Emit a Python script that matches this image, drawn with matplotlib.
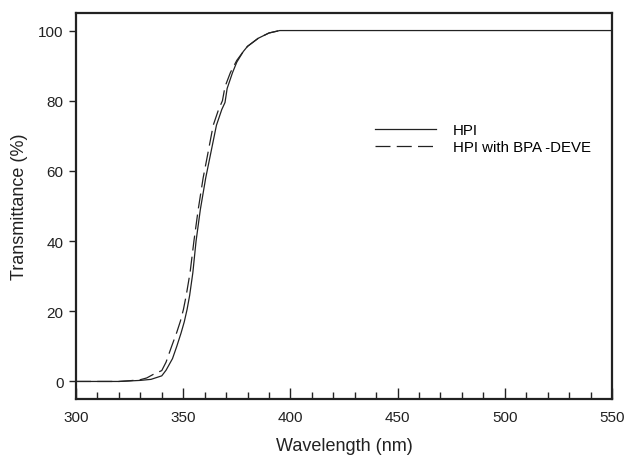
import matplotlib
matplotlib.use("Agg")
import matplotlib.pyplot as plt
from matplotlib.ticker import MultipleLocator

plt.rcParams['font.family'] = ['Liberation Sans', 'DejaVu Sans']

# HPI (solid)
wl_hpi = [300, 310, 320, 330, 335, 340, 342, 345, 347, 349, 350.5, 351.8, 353, 354.5, 356, 358,
          360.5, 362.5, 365.5, 368, 369.5, 370.5, 373, 375, 378, 380, 385, 390, 395, 550]
t_hpi = [0, 0, 0, 0.3, 0.6, 1.6, 3.2, 6.5, 10, 13.8, 17, 20.5, 24.5, 31, 40, 49,
         58, 64, 73, 77.5, 79.5, 83.5, 88, 91, 94, 95.5, 97.8, 99.3, 100, 100]

# HPI with BPA-DEVE (dashed)
wl_bpa = [300, 310, 320, 325, 330, 333, 336, 340, 342, 344.6, 347, 348.7, 350.1, 351.4,
          353.2, 355, 357, 359.3, 361.2, 364, 366.5, 368.3, 369.5, 372, 375, 378, 380,
          385, 390, 395]
t_bpa = [0, 0, 0, 0.2, 0.5, 1, 2, 3.1, 5.5, 10, 14, 17.2, 20.5, 24.5,
         31, 40, 49, 58, 64, 73, 77.5, 80, 84, 88, 91.5, 94, 95.5,
         97.8, 99.3, 100]

labels = ["HPI", "HPI with BPA -DEVE"]

fig = plt.figure(figsize=(6.25, 4.56), dpi=100)
ax = fig.add_axes([76/625, 56/456, (612-76)/625, (400-14)/456])

ax.plot(wl_hpi, t_hpi, color='#222222', lw=0.9, ls='-', label=labels[0])
ax.plot(wl_bpa, t_bpa, color='#222222', lw=0.9, ls=(0, (12, 5)), label=labels[1])

ax.set_xlim(300, 550)
ax.set_ylim(-5, 105)
ax.xaxis.set_major_locator(MultipleLocator(50))
ax.xaxis.set_minor_locator(MultipleLocator(10))
ax.yaxis.set_major_locator(MultipleLocator(20))
ax.yaxis.set_minor_locator(plt.NullLocator())

for s in ax.spines.values():
    s.set_linewidth(1.6)
    s.set_color('#222222')

ax.tick_params(axis='x', which='major', direction='in', length=8, width=1, labelsize=11, pad=8, colors='#222222')
ax.tick_params(axis='x', which='minor', direction='in', length=5, width=1, colors='#222222')
ax.tick_params(axis='y', which='major', direction='out', length=5, width=1, labelsize=11, pad=4, colors='#222222')

ax.set_xlabel("Wavelength (nm)", fontsize=13, labelpad=9, color='#222222')
ax.set_ylabel("Transmittance (%)", fontsize=13, labelpad=7, color='#222222')

leg = ax.legend(loc='upper left', bbox_to_anchor=(0.533, 0.75), frameon=False,
                fontsize=10.8, handlelength=4.07, handletextpad=1.13, labelspacing=0.2)

fig.savefig("out.png", dpi=100)
